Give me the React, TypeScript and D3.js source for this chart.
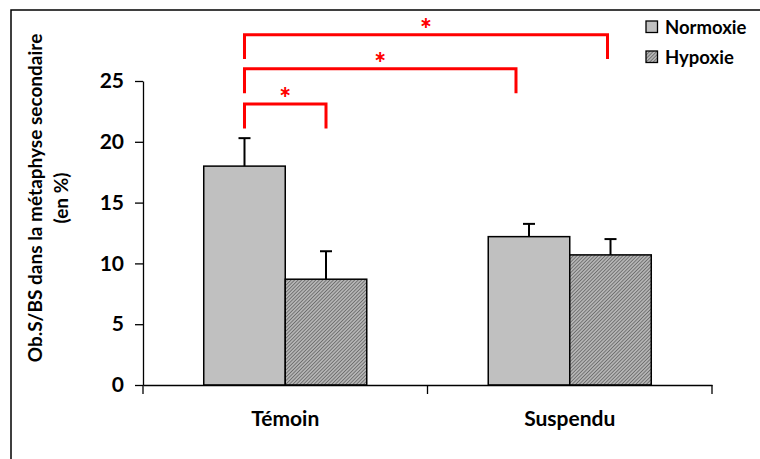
import { useEffect, useRef } from 'react';
import * as d3 from 'd3';

const WIDTH = 760;
const HEIGHT = 459;
const MARGIN = { top: 81, right: 48, bottom: 74, left: 143 };

const categories = ['Témoin', 'Suspendu'];
const groups = ['Normoxie', 'Hypoxie'];
const normoxieValues = [18.0, 12.2];
const normoxieErrors = [2.3, 1.05];
const hypoxieValues = [8.7, 10.7];
const hypoxieErrors = [2.3, 1.3];
const yTicks = [0, 5, 10, 15, 20, 25];

// significance brackets: bar indices [category, group], level in data units
const brackets = [
  { from: [0, 0], to: [0, 1], level: 23.1, shift: 0 },
  { from: [0, 0], to: [1, 0], level: 26.0, shift: -13 },
  { from: [0, 0], to: [1, 1], level: 28.8, shift: -3 },
];

const FONT = 'Lato, "DejaVu Sans", sans-serif';

const App = () => {
  const axesRef = useRef(null);
  const boundsWidth = WIDTH - MARGIN.left - MARGIN.right;
  const boundsHeight = HEIGHT - MARGIN.top - MARGIN.bottom;

  const yScale = d3.scaleLinear().domain([0, 25]).range([boundsHeight, 0]);
  const xScale = d3.scaleBand().domain(categories).range([0, boundsWidth]).paddingInner(0).paddingOuter(0);
  const inner = d3.scaleBand().domain(groups).range([0, xScale.bandwidth() * 0.573]);
  const groupOffset = (xScale.bandwidth() - inner.range()[1]) / 2;

  const barX = (ci: number, gi: number) =>
    (xScale(categories[ci]) || 0) + groupOffset + (inner(groups[gi]) || 0);
  const barCenter = (ci: number, gi: number) => barX(ci, gi) + inner.bandwidth() / 2;

  useEffect(() => {
    document.body.style.margin = '0';
    const g = d3.select(axesRef.current);
    g.selectAll('*').remove();

    const yAxis = g.append('g').call(
      d3.axisLeft(yScale).tickValues(yTicks).tickSize(8).tickSizeOuter(0).tickPadding(11)
    );
    const xAxis = g
      .append('g')
      .attr('transform', `translate(0,${boundsHeight})`)
      .call(d3.axisBottom(xScale).tickSize(9).tickSizeOuter(0).tickFormat(() => ''));
    // ticks at band boundaries
    xAxis.selectAll('.tick').remove();
    [0, xScale.bandwidth(), boundsWidth].forEach((x) => {
      xAxis.append('line').attr('x1', x).attr('x2', x).attr('y1', 0).attr('y2', 9).attr('stroke', '#000');
    });
    xAxis
      .selectAll('.cat')
      .data(categories)
      .join('text')
      .attr('x', (d) => (xScale(d) || 0) + xScale.bandwidth() / 2)
      .attr('y', 41)
      .attr('text-anchor', 'middle')
      .attr('font-family', FONT)
      .attr('font-weight', 700)
      .attr('font-size', 21)
      .attr('fill', '#000')
      .text((d) => d);

    [yAxis, xAxis].forEach((a) => {
      a.selectAll('path, line').attr('stroke', '#000').attr('stroke-width', 1.3);
    });
    yAxis
      .selectAll('text')
      .attr('font-family', FONT)
      .attr('font-weight', 700)
      .attr('font-size', 21)
      .attr('fill', '#000');
  }, []);

  const bars = [];
  categories.forEach((c, ci) => {
    const vals = [normoxieValues[ci], hypoxieValues[ci]];
    const errs = [normoxieErrors[ci], hypoxieErrors[ci]];
    vals.forEach((v, gi) => {
      const x = barX(ci, gi);
      const cx = barCenter(ci, gi);
      bars.push(
        <g key={`${ci}-${gi}`}>
          <line x1={cx} x2={cx} y1={yScale(v)} y2={yScale(v + errs[gi])} stroke="#000" strokeWidth={2} />
          <line x1={cx - 6} x2={cx + 6} y1={yScale(v + errs[gi])} y2={yScale(v + errs[gi])} stroke="#000" strokeWidth={2} />
          <rect
            x={x}
            y={yScale(v)}
            width={inner.bandwidth()}
            height={boundsHeight - yScale(v)}
            fill={gi === 0 ? '#c0c0c0' : 'url(#hatch)'}
            stroke="#000"
            strokeWidth={1.5}
          />
        </g>
      );
    });
  });

  const bracketMarks = brackets.map((b, i) => {
    const x1 = barCenter(b.from[0], b.from[1]);
    const x2 = barCenter(b.to[0], b.to[1]) + b.shift;
    const y = yScale(b.level);
    const yb = yScale(b.level - 2);
    return (
      <g key={i}>
        <path d={`M${x1},${yb}V${y}H${x2}V${yb}`} fill="none" stroke="#ff0000" strokeWidth={3} />
        <text x={(x1 + x2) / 2} y={y + 4} textAnchor="middle" fontFamily={FONT} fontWeight={900} fontSize={28} fill="#ff0000">
          *
        </text>
      </g>
    );
  });

  return (
    <svg width={WIDTH} height={HEIGHT} style={{ display: 'block' }}>
      <defs>
        <pattern id="hatch" width={2.5} height={2.5} patternUnits="userSpaceOnUse" patternTransform="rotate(45)">
          <rect width={2.5} height={2.5} fill="#b4b4b4" />
          <line x1={0} y1={0} x2={0} y2={2.5} stroke="#505050" strokeWidth={1.2} />
        </pattern>
      </defs>
      <rect width={WIDTH} height={HEIGHT} fill="#fff" />
      <path d={`M11,${HEIGHT}V10H${WIDTH}`} fill="none" stroke="#000" strokeWidth={1.5} />

      <g transform={`translate(${MARGIN.left},${MARGIN.top})`}>
        {bars}
        {bracketMarks}
      </g>
      <g ref={axesRef} transform={`translate(${MARGIN.left},${MARGIN.top})`} />

      <text
        transform={`translate(42,198) rotate(-90)`}
        textAnchor="middle"
        fontFamily={FONT}
        fontWeight={700}
        fontSize={19}
      >
        Ob.S/BS dans la métaphyse secondaire
      </text>
      <text
        transform={`translate(68,198) rotate(-90)`}
        textAnchor="middle"
        fontFamily={FONT}
        fontWeight={700}
        fontSize={19}
      >
        (en %)
      </text>

      {groups.map((gname, i) => (
        <g key={gname} transform={`translate(646,${21 + i * 30})`}>
          <rect width={11.5} height={11.5} fill={i === 0 ? '#c0c0c0' : 'url(#hatch)'} stroke="#000" strokeWidth={1.3} />
          <text x={19} y={12.5} fontFamily={FONT} fontWeight={700} fontSize={18.5}>
            {gname}
          </text>
        </g>
      ))}
    </svg>
  );
};

export default App;
